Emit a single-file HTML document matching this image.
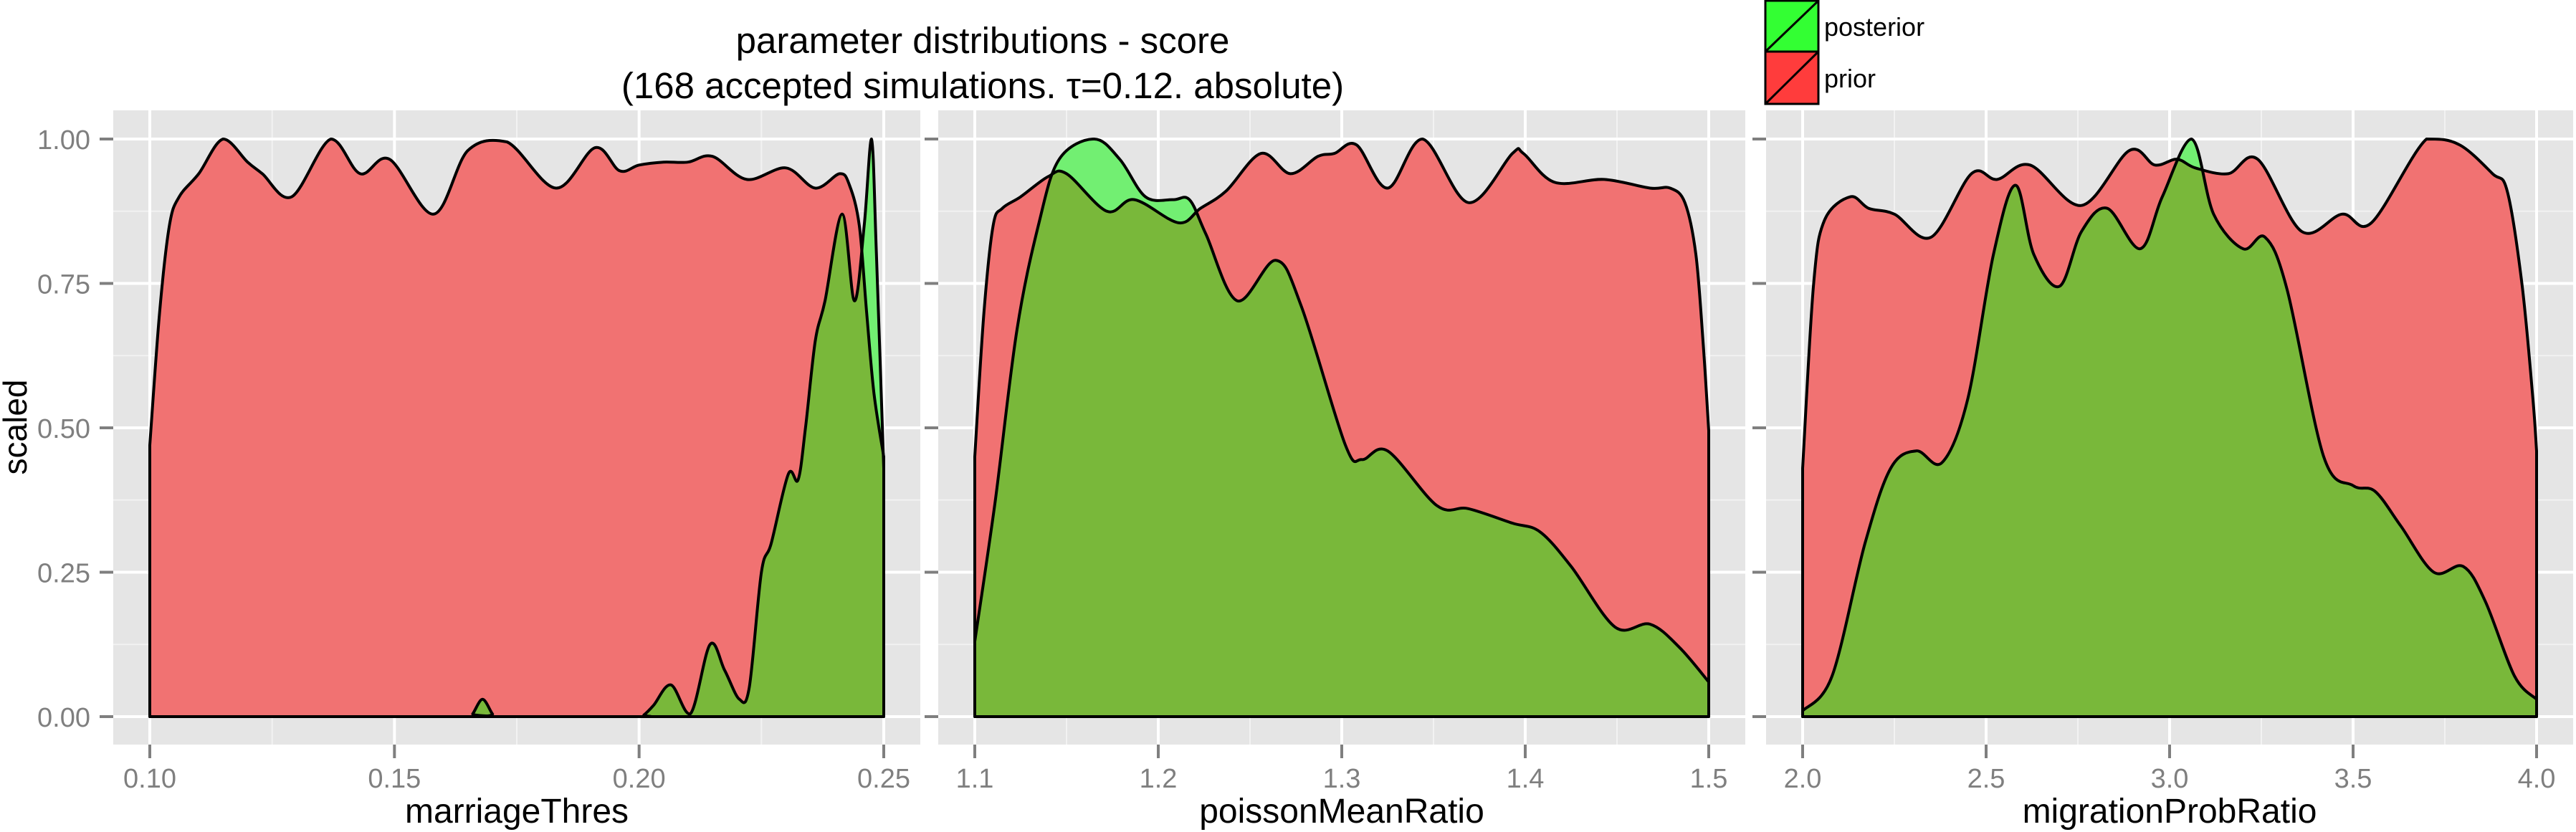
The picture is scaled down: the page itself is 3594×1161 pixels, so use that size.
<!DOCTYPE html>
<html><head><meta charset="utf-8">
<style>
html,body{margin:0;padding:0;background:#fff;}
svg{display:block;font-family:"Liberation Sans",sans-serif;}
</style></head>
<body>
<svg id="chart" width="3594" height="1161" viewBox="0 0 3594 1161" xmlns="http://www.w3.org/2000/svg">
<text x="1371" y="74" font-size="51" text-anchor="middle">parameter distributions - score</text>
<text x="1371" y="137" font-size="51" text-anchor="middle">(168 accepted simulations. τ=0.12. absolute)</text>
<text transform="translate(37,596) rotate(-90)" font-size="46" text-anchor="middle">scaled</text>
<g>
<g>
<rect x="2463" y="1" width="74" height="71" fill="#33FF33" stroke="#000" stroke-width="3"/>
<line x1="2463" y1="72" x2="2537" y2="1" stroke="#000" stroke-width="3"/>
<text x="2545" y="50" font-size="36">posterior</text>
</g>
<g>
<rect x="2463" y="72" width="74" height="73" fill="#FF3C3C" stroke="#000" stroke-width="3"/>
<line x1="2463" y1="145" x2="2537" y2="72" stroke="#000" stroke-width="3"/>
<text x="2545" y="122" font-size="36">prior</text>
</g>
</g>
<g id="panels"></g>
</svg>
<script>
// Panel 1: marriageThres
const p1PriorX = [0.100,0.102,0.104,0.106,0.110,0.115,0.120,0.123,0.129,0.137,0.143,0.149,0.158,0.165,0.173,0.183,0.191,0.196,0.200,0.205,0.210,0.215,0.222,0.230,0.236,0.241,0.243,0.245,0.2465,0.248,0.250];
const p1PriorY = [0.47,0.70,0.85,0.90,0.94,1.00,0.96,0.94,0.90,1.00,0.94,0.965,0.87,0.98,0.995,0.915,0.985,0.945,0.955,0.96,0.96,0.97,0.93,0.95,0.915,0.94,0.92,0.85,0.70,0.56,0.45];
const p1PostX = [0.100,0.165,0.166,0.168,0.170,0.171,0.200,0.201,0.203,0.2065,0.2105,0.2145,0.2175,0.2205,0.2225,0.225,0.227,0.2305,0.2325,0.234,0.236,0.238,0.2415,0.244,0.246,0.2475,0.2485,0.250];
const p1PostY = [0,0,0.005,0.03,0.005,0,0,0.003,0.02,0.055,0.005,0.125,0.08,0.03,0.05,0.25,0.30,0.42,0.41,0.50,0.65,0.72,0.87,0.72,0.85,1.00,0.80,0.43];
const p1Ticks = ["0.10","0.15","0.20","0.25"];
const p1TickVals = [0.10,0.15,0.20,0.25];
// Panel 2: poissonMeanRatio
const p2PriorX = [1.100,1.105,1.110,1.115,1.125,1.140,1.150,1.172,1.187,1.211,1.223,1.237,1.256,1.272,1.287,1.296,1.308,1.325,1.344,1.369,1.393,1.399,1.416,1.443,1.468,1.479,1.487,1.493,1.497,1.500];
const p2PriorY = [0.45,0.70,0.85,0.88,0.90,0.935,0.94,0.875,0.895,0.855,0.88,0.91,0.975,0.94,0.97,0.975,0.99,0.915,1.00,0.89,0.975,0.975,0.925,0.93,0.915,0.915,0.89,0.80,0.645,0.495];
const p2PostX = [1.100,1.111,1.123,1.135,1.146,1.165,1.179,1.193,1.208,1.217,1.226,1.243,1.264,1.278,1.302,1.311,1.325,1.352,1.369,1.393,1.408,1.425,1.449,1.468,1.484,1.500];
const p2PostY = [0.13,0.37,0.67,0.855,0.965,1.00,0.965,0.90,0.895,0.895,0.835,0.72,0.79,0.71,0.47,0.445,0.46,0.365,0.36,0.335,0.32,0.26,0.155,0.16,0.12,0.06];
const p2Ticks = ["1.1","1.2","1.3","1.4","1.5"];
const p2TickVals = [1.1,1.2,1.3,1.4,1.5];
// Panel 3: migrationProbRatio
const p3PriorX = [2.00,2.03,2.06,2.13,2.18,2.25,2.35,2.46,2.53,2.62,2.76,2.89,2.96,3.02,3.07,3.16,3.24,3.36,3.47,3.55,3.70,3.79,3.88,3.92,3.96,3.99,4.00];
const p3PriorY = [0.43,0.75,0.86,0.90,0.88,0.87,0.83,0.94,0.93,0.955,0.885,0.98,0.955,0.965,0.95,0.94,0.965,0.84,0.87,0.855,1.00,0.99,0.94,0.91,0.75,0.55,0.46];
const p3PostX = [2.00,2.08,2.17,2.24,2.31,2.38,2.45,2.52,2.58,2.63,2.70,2.76,2.83,2.92,2.98,3.06,3.12,3.20,3.26,3.32,3.42,3.50,3.56,3.63,3.72,3.80,3.86,3.94,4.00];
const p3PostY = [0.01,0.07,0.30,0.43,0.46,0.44,0.55,0.80,0.92,0.80,0.745,0.84,0.88,0.81,0.90,1.00,0.87,0.81,0.83,0.74,0.45,0.40,0.39,0.33,0.25,0.26,0.20,0.07,0.03];
const p3Ticks = ["2.0","2.5","3.0","3.5","4.0"];
const p3TickVals = [2.0,2.5,3.0,3.5,4.0];
const yTickVals = [0,0.25,0.5,0.75,1];
const yTicks = ["0.00","0.25","0.50","0.75","1.00"];

const NS = "http://www.w3.org/2000/svg";
const root = document.getElementById('panels');
const PT = 154, PB = 1039, PW = 1126;
const Y0 = 1000, Y1 = 194;
function yS(v){ return Y0 - v*(Y0-Y1); }
function mk(tag, attrs, parent){
  const e = document.createElementNS(NS, tag);
  for (const k in attrs) e.setAttribute(k, attrs[k]);
  parent.appendChild(e); return e;
}
function cl(y){ return Math.max(Y1, Math.min(Y0, y)); }
function spline(pts){
  let d = "";
  for (let i=0;i<pts.length-1;i++){
    const p0 = pts[Math.max(0,i-1)], p1 = pts[i], p2 = pts[i+1], p3 = pts[Math.min(pts.length-1,i+2)];
    const c1x = p1[0]+(p2[0]-p0[0])/6, c1y = cl(p1[1]+(p2[1]-p0[1])/6);
    const c2x = p2[0]-(p3[0]-p1[0])/6, c2y = cl(p2[1]-(p3[1]-p1[1])/6);
    d += " C"+c1x.toFixed(1)+","+c1y.toFixed(1)+" "+c2x.toFixed(1)+","+c2y.toFixed(1)+" "+p2[0].toFixed(1)+","+p2[1].toFixed(1);
  }
  return d;
}
function areaPath(xs, ys, xS){
  const pts = xs.map((x,i)=>[xS(x), yS(ys[i])]);
  return "M"+pts[0][0]+","+yS(0)+" L"+pts[0][0]+","+pts[0][1]+spline(pts)+" L"+pts[pts.length-1][0]+","+yS(0)+" Z";
}
const panels = [
  {left:158, name:"marriageThres", key:"marriage-thres", px:p1PriorX, py:p1PriorY, qx:p1PostX, qy:p1PostY, ticks:p1Ticks, tv:p1TickVals, labels:true},
  {left:1309, name:"poissonMeanRatio", key:"poisson-mean-ratio", px:p2PriorX, py:p2PriorY, qx:p2PostX, qy:p2PostY, ticks:p2Ticks, tv:p2TickVals, labels:false},
  {left:2464, name:"migrationProbRatio", key:"migration-prob-ratio", px:p3PriorX, py:p3PriorY, qx:p3PostX, qy:p3PostY, ticks:p3Ticks, tv:p3TickVals, labels:false}
];
panels.forEach((p, idx)=>{
  const g = mk('g', {}, root);
  
  
  const lo = p.tv[0], hi = p.tv[p.tv.length-1];
  const xa = p.left + 51, xb = p.left + PW - 51;
  const xS = v => xa + (v-lo)/(hi-lo)*(xb-xa);
  const bg = mk('rect', {x:p.left, y:PT, width:PW, height:PB-PT, fill:'#E5E5E5'}, g);
  
  
  for (let i=0;i<yTickVals.length-1;i++){
    const v=(yTickVals[i]+yTickVals[i+1])/2;
    mk('line',{x1:p.left,x2:p.left+PW,y1:yS(v),y2:yS(v),stroke:'#F2F2F2','stroke-width':2},g);
  }
  for (let i=0;i<p.tv.length-1;i++){
    const v=(p.tv[i]+p.tv[i+1])/2;
    mk('line',{x1:xS(v),x2:xS(v),y1:PT,y2:PB,stroke:'#F2F2F2','stroke-width':2},g);
  }
  yTickVals.forEach(v=>mk('line',{x1:p.left,x2:p.left+PW,y1:yS(v),y2:yS(v),stroke:'#fff','stroke-width':4},g));
  p.tv.forEach(v=>mk('line',{x1:xS(v),x2:xS(v),y1:PT,y2:PB,stroke:'#fff','stroke-width':4},g));
  const priorD = areaPath(p.px, p.py, xS);
  const postD = areaPath(p.qx, p.qy, xS);
  const cp = mk('clipPath', {id:'clip'+idx}, g);
  mk('path', {d:priorD}, cp);
  const pr = mk('path', {d:priorD, fill:'#F17272', stroke:'none'}, g);
  
  
  const po = mk('path', {d:postD, fill:'#72EF72', stroke:'none'}, g);
  
  
  mk('path', {d:postD, fill:'#79B83A', stroke:'none', 'clip-path':'url(#clip'+idx+')'}, g);
  mk('path', {d:priorD, fill:'none', stroke:'#000', 'stroke-width':4, 'stroke-linejoin':'round'}, g);
  mk('path', {d:postD, fill:'none', stroke:'#000', 'stroke-width':4, 'stroke-linejoin':'round'}, g);
  yTickVals.forEach((v,i)=>{
    mk('line',{x1:p.left-19,x2:p.left,y1:yS(v),y2:yS(v),stroke:'#7F7F7F','stroke-width':4},g);
    if (p.labels){
      const t = mk('text',{x:p.left-32,y:yS(v)+14,'font-size':38,fill:'#7F7F7F','text-anchor':'end'},g);
      t.textContent = yTicks[i];
      
      
    }
  });
  p.tv.forEach((v,i)=>{
    mk('line',{x1:xS(v),x2:xS(v),y1:PB,y2:PB+19,stroke:'#7F7F7F','stroke-width':4},g);
    const t = mk('text',{x:xS(v),y:1099,'font-size':38,fill:'#7F7F7F','text-anchor':'middle'},g);
    t.textContent = p.ticks[i];
    
    
  });
  const xt = mk('text',{x:p.left+PW/2,y:1148,'font-size':48,fill:'#000','text-anchor':'middle'},g);
  xt.textContent = p.name;
  
  
});
</script>
</body></html>
